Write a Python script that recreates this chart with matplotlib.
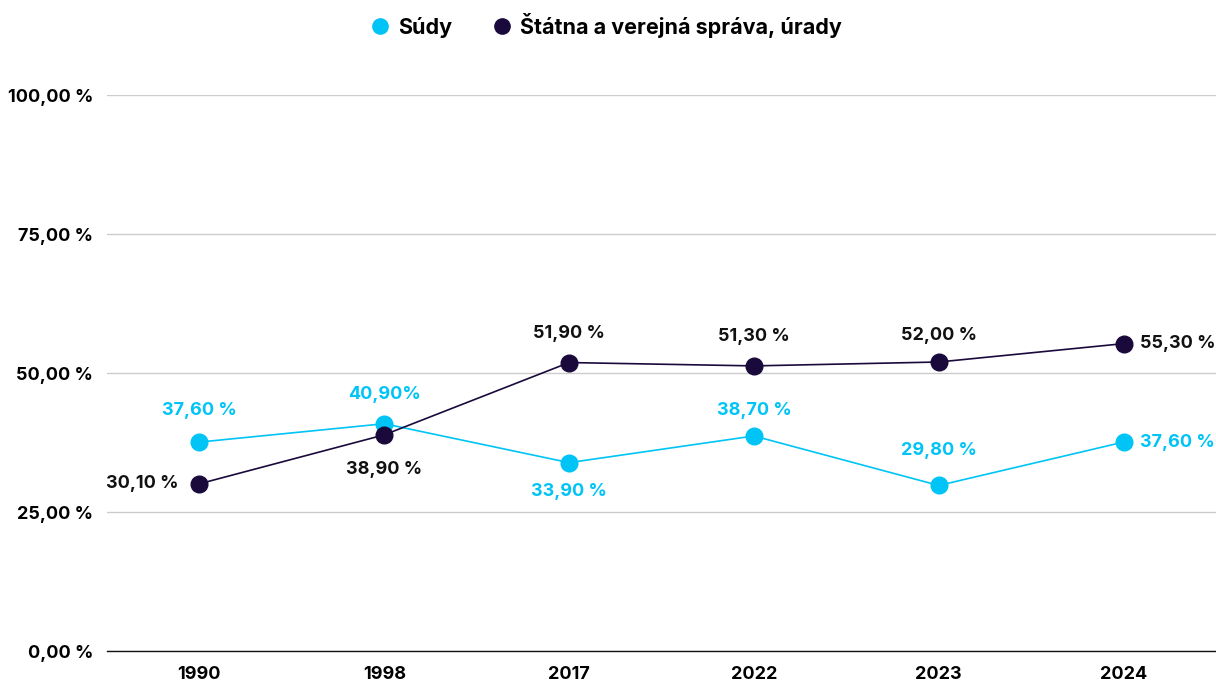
import matplotlib.pyplot as plt
import numpy as np

plt.rcParams['font.family'] = ['Inter', 'DejaVu Sans']
plt.rcParams['font.weight'] = 'bold'

years = ["1990", "1998", "2017", "2022", "2023", "2024"]
sudy = [37.6, 40.9, 33.9, 38.7, 29.8, 37.6]
sprava = [30.1, 38.9, 51.9, 51.3, 52.0, 55.3]
sudy_labels = ["37,60 %", "40,90%", "33,90 %", "38,70 %", "29,80 %", "37,60 %"]
sprava_labels = ["30,10 %", "38,90 %", "51,90 %", "51,30 %", "52,00 %", "55,30 %"]
yticks = [0, 25, 50, 75, 100]
ytick_labels = ["0,00 %", "25,00 %", "50,00 %", "75,00 %", "100,00 %"]

color_sudy = "#00C4F5"
color_sprava = "#1A0A3C"

# label placement: (dx, dy) in points, ha
sudy_pos = [(0, 23, "center"), (0, 21, "center"), (0, -21, "center"),
            (0, 18, "center"), (0, 25, "center"), (12, 0, "left")]
sprava_pos = [(-15, 0, "right"), (0, -25, "center"), (0, 21, "center"),
              (0, 21, "center"), (0, 19, "center"), (12, 0, "left")]

fig = plt.figure(figsize=(12.16, 6.84), dpi=100)
ax = fig.add_axes([0.088, 0.048, 0.912, 0.813])

x = np.arange(len(years))
ax.plot(x, sudy, color=color_sudy, lw=1.2, marker="o", ms=12, clip_on=False, zorder=3, label="Súdy")
ax.plot(x, sprava, color=color_sprava, lw=1.2, marker="o", ms=12, clip_on=False, zorder=4,
        label="Štátna a verejná správa, úrady")

for xi, v, lab, (dx, dy, ha) in zip(x, sudy, sudy_labels, sudy_pos):
    ax.annotate(lab, (xi, v), xytext=(dx, dy), textcoords="offset points", ha=ha, va="center",
                color=color_sudy, fontsize=13, fontweight="bold")
for xi, v, lab, (dx, dy, ha) in zip(x, sprava, sprava_labels, sprava_pos):
    ax.annotate(lab, (xi, v), xytext=(dx, dy), textcoords="offset points", ha=ha, va="center",
                color="#111111", fontsize=13, fontweight="bold")

ax.set_xlim(-0.5, len(years) - 0.5)
ax.set_ylim(0, 100)
ax.set_xticks(x)
ax.set_xticklabels(years, fontsize=13, fontweight="bold")
ax.set_yticks(yticks)
ax.set_yticklabels(ytick_labels, fontsize=13, fontweight="bold")
ax.tick_params(length=0)
ax.tick_params(axis="x", pad=11)
ax.tick_params(axis="y", pad=10)
ax.grid(axis="y", color="#cccccc", lw=1)
ax.set_axisbelow(True)
for s in ["top", "right", "left"]:
    ax.spines[s].set_visible(False)
ax.spines["bottom"].set_color("#111111")
ax.spines["bottom"].set_linewidth(1)

fig.legend(loc="upper center", bbox_to_anchor=(0.5, 1.01), ncol=2, frameon=False,
           handlelength=0.6, handletextpad=0.55, columnspacing=2.0,
           prop={"weight": "bold", "size": 15.5})
leg = fig.legends[0]
for h in leg.legend_handles:
    h.set_linestyle("none")
    h.set_markersize(11)

fig.savefig("out.png", dpi=100)
